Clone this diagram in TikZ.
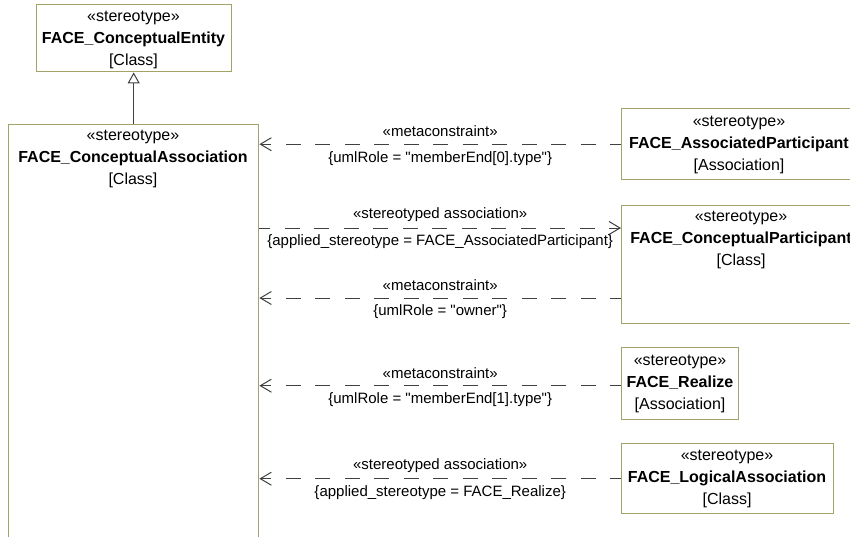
\documentclass[tikz,border=0pt]{standalone}
\usepackage{fontspec}
\setmainfont{Liberation Sans}[Ligatures=TeXOff]
\usetikzlibrary{arrows.meta,calc}
\definecolor{boxc}{RGB}{163,163,105}
\definecolor{linec}{RGB}{64,64,64}
\begin{document}
\begin{tikzpicture}[x=1pt,y=-1pt,
  umlbox/.style={draw=boxc, line width=1.4pt, fill=white, rectangle, inner sep=0pt, anchor=north west},
  boxtext/.style={align=center, font=\fontsize{16}{22}\selectfont, inner sep=0pt},
  conn/.style={draw=linec, line width=1pt, dash pattern=on 15pt off 14.5pt, dash phase=4pt},
  lbl/.style={font=\fontsize{15}{18}\selectfont, inner sep=0pt},
  barb/.tip={Straight Barb[length=11pt,width=13pt,line width=1pt]}
]
\useasboundingbox (0,0) rectangle (850,536);
\clip (0,0) rectangle (850,536);

% boxes
\node[umlbox, minimum width=195pt, minimum height=67pt] (ent) at (36,4) {};
\node[umlbox, minimum width=250pt, minimum height=430pt] (ca) at (8,124) {};
\node[umlbox, minimum width=236pt, minimum height=71pt] (ap) at (621,108) {};
\node[umlbox, minimum width=236pt, minimum height=118pt] (cp) at (621,205) {};
\node[umlbox, minimum width=117pt, minimum height=72pt] (re) at (621,347) {};
\node[umlbox, minimum width=212pt, minimum height=70pt] (la) at (621,443) {};

% box texts
\node[boxtext] (ent-t) at (133.5,40) {«stereotype»\\\textbf{FACE\_ConceptualEntity}\\{[Class]}};
\node[boxtext] (ca-t) at (133,159) {«stereotype»\\\textbf{FACE\_ConceptualAssociation}\\{[Class]}};
\node[boxtext] (ap-t) at (739,145) {«stereotype»\\\textbf{FACE\_AssociatedParticipant}\\{[Association]}};
\node[boxtext] (cp-t) at (741,240) {«stereotype»\\\textbf{FACE\_ConceptualParticipant}\\{[Class]}};
\node[boxtext] (re-t) at (680,384) {«stereotype»\\\textbf{FACE\_Realize}\\{[Association]}};
\node[boxtext] (la-t) at (727,479) {«stereotype»\\\textbf{FACE\_LogicalAssociation}\\{[Class]}};

% generalization
\draw[draw=linec, line width=1pt, -{Triangle[open,length=11pt,width=12pt,fill=white]}]
  (ca.north) -- (ca.north |- ent.south);

% connectors
\draw[conn, -barb] (ap.west) -- (ap.west -| ca.east)
  node[midway, lbl, yshift=13pt] (l1a) {«metaconstraint»}
  node[midway, lbl, yshift=-14pt] (l1b) {\{umlRole = "memberEnd[0].type"\}};
\draw[conn, -barb] ([yshift=-23pt]cp.north west -| ca.east) -- ([yshift=-23pt]cp.north west)
  node[midway, lbl, yshift=13pt] (l2a) {«stereotyped association»}
  node[midway, lbl, yshift=-14pt] (l2b) {\{applied\_stereotype = FACE\_AssociatedParticipant\}};
\draw[conn, -barb] ([yshift=-93pt]cp.north west) -- ([yshift=-93pt]cp.north west -| ca.east)
  node[midway, lbl, yshift=13pt] (l3a) {«metaconstraint»}
  node[midway, lbl, yshift=-14pt] (l3b) {\{umlRole = "owner"\}};
\draw[conn, -barb] ([yshift=-2pt]re.west) -- ([yshift=-2pt]re.west -| ca.east)
  node[midway, lbl, yshift=13pt] (l4a) {«metaconstraint»}
  node[midway, lbl, yshift=-14pt] (l4b) {\{umlRole = "memberEnd[1].type"\}};
\draw[conn, -barb] (la.west) -- (la.west -| ca.east)
  node[midway, lbl, yshift=13pt] (l5a) {«stereotyped association»}
  node[midway, lbl, yshift=-14pt] (l5b) {\{applied\_stereotype = FACE\_Realize\}};
\end{tikzpicture}
\end{document}
